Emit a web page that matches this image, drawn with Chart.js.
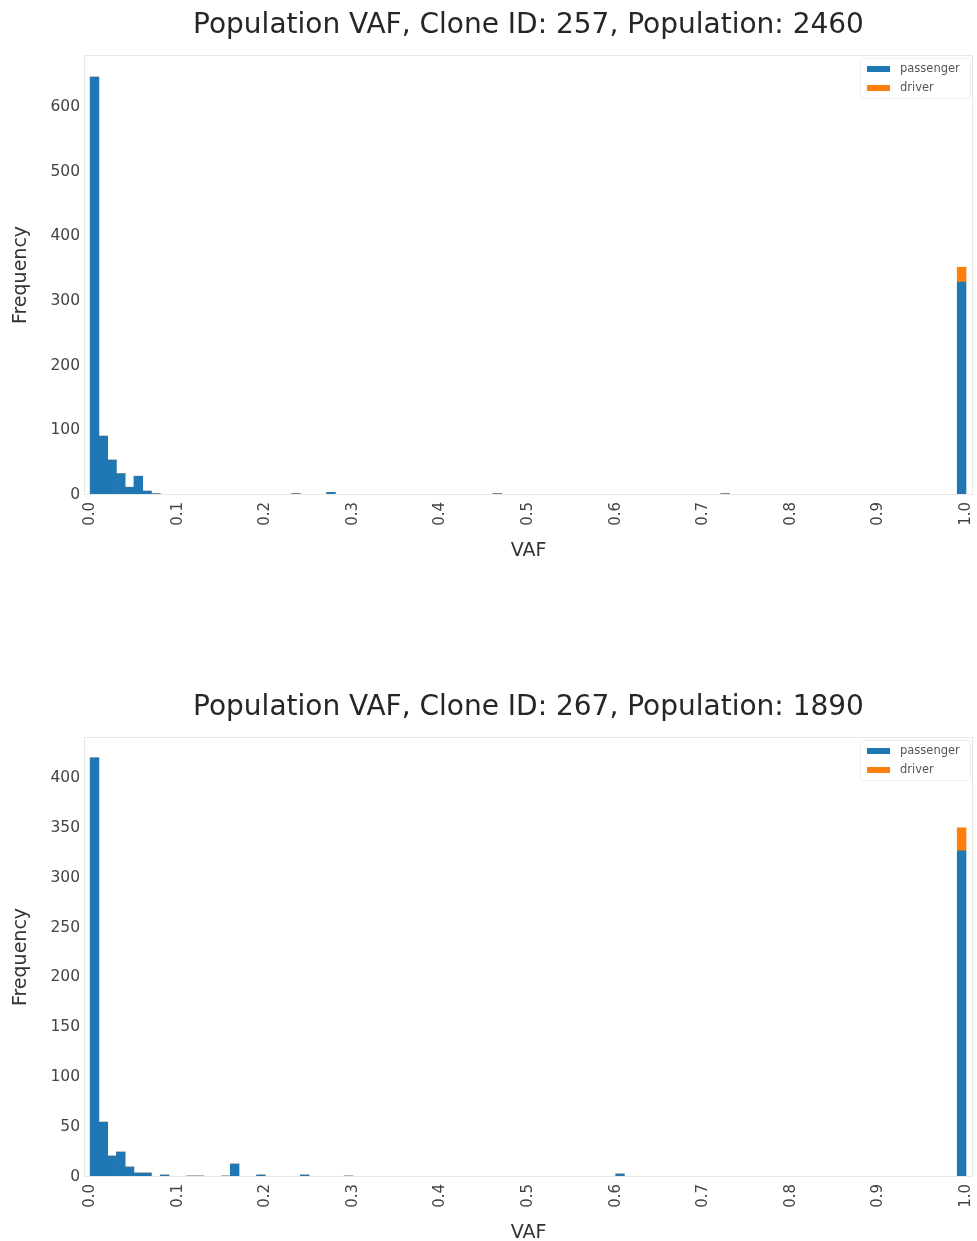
<!DOCTYPE html>
<html>
<head>
<meta charset="utf-8">
<script src="https://cdn.jsdelivr.net/npm/chart.js@4.4.1/dist/chart.umd.min.js"></script>
<style>
  html, body { margin: 0; padding: 0; background: #fff; overflow: hidden; }
  .wrap { position: absolute; left: 0; width: 977px; height: 562px; }
</style>
</head>
<body>
<div class="wrap" style="top:0px"><canvas id="chart257" width="977" height="562"></canvas></div>
<div class="wrap" style="top:682px"><canvas id="chart267" width="977" height="562"></canvas></div>
<script>
// histogram counts, 100 bins of width 0.01 over VAF 0..1
const BIN_WIDTH = 0.01;

const passenger257 = [
  646, 91, 54, 33, 12, 29, 6, 2, 0, 1,
  1, 1, 1, 0, 0, 1, 0, 0, 0, 0,
  0, 1, 0, 2, 0, 0, 0, 4, 0, 0,
  0, 0, 0, 0, 0, 0, 0, 0, 0, 0,
  0, 0, 0, 0, 0, 0, 2, 0, 0, 0,
  0, 0, 0, 0, 0, 0, 0, 0, 0, 0,
  0, 0, 0, 0, 0, 0, 0, 0, 0, 0,
  0, 0, 2, 0, 0, 0, 0, 0, 0, 0,
  0, 0, 0, 0, 0, 0, 0, 0, 0, 0,
  0, 0, 0, 0, 0, 0, 0, 0, 0, 329
];
const driver257 = [
  0, 0, 0, 0, 0, 0, 0, 0, 0, 0,
  0, 0, 0, 0, 0, 0, 0, 0, 0, 0,
  0, 0, 0, 0, 0, 0, 0, 0, 0, 0,
  0, 0, 0, 0, 0, 0, 0, 0, 0, 0,
  0, 0, 0, 0, 0, 0, 0, 0, 0, 0,
  0, 0, 0, 0, 0, 0, 0, 0, 0, 0,
  0, 0, 0, 0, 0, 0, 0, 0, 0, 0,
  0, 0, 0, 0, 0, 0, 0, 0, 0, 0,
  0, 0, 0, 0, 0, 0, 0, 0, 0, 0,
  0, 0, 0, 0, 0, 0, 0, 0, 0, 23
];

const passenger267 = [
  420, 55, 21, 25, 10, 4, 4, 0, 2, 0,
  0, 1, 1, 0, 0, 1, 13, 0, 0, 2,
  0, 0, 0, 0, 2, 0, 0, 0, 0, 1,
  0, 0, 0, 0, 0, 0, 0, 0, 0, 0,
  0, 0, 0, 0, 0, 0, 0, 0, 0, 0,
  0, 0, 0, 0, 0, 0, 0, 0, 0, 0,
  3, 0, 0, 0, 0, 0, 0, 0, 0, 0,
  0, 0, 0, 0, 0, 0, 0, 0, 0, 0,
  0, 0, 0, 0, 0, 0, 0, 0, 0, 0,
  0, 0, 0, 0, 0, 0, 0, 0, 0, 327
];
const driver267 = [
  0, 0, 0, 0, 0, 0, 0, 0, 0, 0,
  0, 0, 0, 0, 0, 0, 0, 0, 0, 0,
  0, 0, 0, 0, 0, 0, 0, 0, 0, 0,
  0, 0, 0, 0, 0, 0, 0, 0, 0, 0,
  0, 0, 0, 0, 0, 0, 0, 0, 0, 0,
  0, 0, 0, 0, 0, 0, 0, 0, 0, 0,
  0, 0, 0, 0, 0, 0, 0, 0, 0, 0,
  0, 0, 0, 0, 0, 0, 0, 0, 0, 0,
  0, 0, 0, 0, 0, 0, 0, 0, 0, 0,
  0, 0, 0, 0, 0, 0, 0, 0, 0, 23
];

const xTicks = [0, 0.1, 0.2, 0.3, 0.4, 0.5, 0.6, 0.7, 0.8, 0.9, 1.0];
const yTicks257 = [0, 100, 200, 300, 400, 500, 600];
const yTicks267 = [0, 50, 100, 150, 200, 250, 300, 350, 400];

const FONT = "'DejaVu Sans', sans-serif";
const BLUE = "#1f77b4";
const ORANGE = "#ff7f0e";

// light frame round the plot area + legend inside top right
const framePlugin = {
  id: "frame",
  afterDraw(chart) {
    const { ctx, chartArea: a } = chart;
    ctx.save();
    ctx.strokeStyle = "#e8e8e8";
    ctx.lineWidth = 1;
    ctx.strokeRect(a.left + 0.5, a.top + 0.5, a.right - a.left - 1, a.bottom - a.top - 1);

    // legend box
    const bx = a.right - 113, by = a.top + 3, bw = 110, bh = 40;
    ctx.fillStyle = "rgba(255,255,255,0.9)";
    ctx.strokeStyle = "#eeeeee";
    ctx.beginPath();
    ctx.roundRect(bx + 0.5, by + 0.5, bw, bh, 3);
    ctx.fill();
    ctx.stroke();
    ctx.font = "11.5px " + FONT;
    ctx.textBaseline = "middle";
    chart.data.datasets.forEach((ds, i) => {
      const cy = by + 11 + i * 19;
      ctx.fillStyle = ds.backgroundColor;
      ctx.fillRect(bx + 7, cy - 3, 23, 6);
      ctx.fillStyle = "#555";
      ctx.fillText(ds.label, bx + 40, cy);
    });
    ctx.restore();
  }
};

function makeChart(id, title, passenger, driver, yMax, yTicks) {
  const centers = passenger.map((_, i) => +(i * BIN_WIDTH + BIN_WIDTH / 2).toFixed(3));
  new Chart(document.getElementById(id), {
    type: "bar",
    data: {
      datasets: [
        {
          label: "passenger",
          data: centers.map((x, i) => ({ x: x, y: passenger[i] })),
          backgroundColor: BLUE,
          borderWidth: 0,
          barPercentage: 1,
          categoryPercentage: 1,
        },
        {
          label: "driver",
          data: centers.map((x, i) => ({ x: x, y: driver[i] })),
          backgroundColor: ORANGE,
          borderWidth: 0,
          barPercentage: 1,
          categoryPercentage: 1,
        },
      ],
    },
    options: {
      responsive: false,
      animation: false,
      layout: { padding: { left: 0, right: 4, top: 0, bottom: 0 } },
      plugins: {
        legend: { display: false },
        tooltip: { enabled: false },
        title: {
          display: true,
          text: title,
          fullSize: false,
          color: "#262626",
          font: { family: FONT, size: 28, weight: "normal", lineHeight: 1.2 },
          padding: { top: 9, bottom: 12.4 },
        },
      },
      scales: {
        x: {
          type: "linear",
          stacked: true,
          offset: false,
          min: -0.007,
          max: 1.008,
          grid: { display: false, drawTicks: true, tickLength: 4 },
          border: { display: false },
          afterBuildTicks: (axis) => { axis.ticks = xTicks.map((v) => ({ value: v })); },
          afterFit: (axis) => {
            axis.height = 67;
            axis.paddingLeft = 0;
            axis.paddingRight = 0;
          },
          ticks: {
            minRotation: 90,
            maxRotation: 90,
            padding: 3,
            color: "#444",
            font: { family: FONT, size: 15 },
            callback: (v) => v.toFixed(1),
          },
          title: {
            display: true,
            text: "VAF",
            color: "#333",
            font: { family: FONT, size: 19, lineHeight: 1.2 },
            padding: { top: 0, bottom: 0 },
          },
        },
        y: {
          stacked: true,
          min: 0,
          max: yMax,
          grid: { display: false, drawTicks: true, tickLength: 4 },
          border: { display: false },
          afterBuildTicks: (axis) => { axis.ticks = yTicks.map((v) => ({ value: v })); },
          afterFit: (axis) => {
            axis.width = 84;
            axis.paddingTop = 0;
            axis.paddingBottom = 0;
          },
          ticks: {
            padding: 0,
            color: "#444",
            font: { family: FONT, size: 15.5 },
          },
          title: {
            display: true,
            text: "Frequency",
            color: "#333",
            font: { family: FONT, size: 19, lineHeight: 1.2 },
            padding: { top: 10, bottom: 0 },
          },
        },
      },
    },
    plugins: [framePlugin],
  });
}

makeChart("chart257", "Population VAF, Clone ID: 257, Population: 2460", passenger257, driver257, 680, yTicks257);
makeChart("chart267", "Population VAF, Clone ID: 267, Population: 1890", passenger267, driver267, 441, yTicks267);
</script>
</body>
</html>
